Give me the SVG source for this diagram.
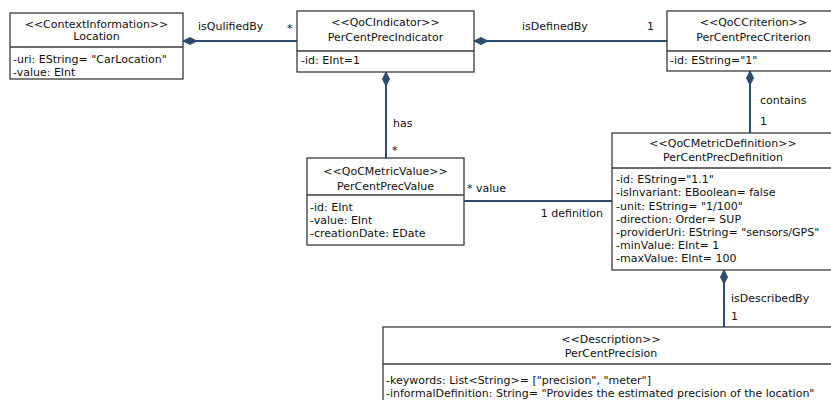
<svg xmlns="http://www.w3.org/2000/svg" width="831" height="400" viewBox="0 0 831 400">
<style>
text{font-family:"DejaVu Sans","Liberation Sans",sans-serif;font-size:11px;fill:#111}
.c{text-anchor:middle}
.box{fill:#fff;stroke:#3a3a3a;stroke-width:1.3}
.sep{stroke:#3a3a3a;stroke-width:1.3}
.conn{stroke:#2b4c70;stroke-width:2;fill:none}
.dia{fill:#2b4c70;stroke:#2b4c70;stroke-width:1}
</style>
<rect width="831" height="400" fill="#fff"/>
<g id="connectors">
  <line class="conn" x1="183" y1="41" x2="297" y2="41"/>
  <polygon class="dia" points="183,41 190,37.5 197,41 190,44.5"/>
  <text x="198" y="30">isQulifiedBy</text>
  <text x="287" y="32">*</text>

  <line class="conn" x1="474" y1="41" x2="667" y2="41"/>
  <polygon class="dia" points="474,41 481,37.5 488,41 481,44.5"/>
  <text x="522" y="30">isDefinedBy</text>
  <text x="647" y="30">1</text>

  <line class="conn" x1="386" y1="72" x2="386" y2="158"/>
  <polygon class="dia" points="386,72 389.5,79 386,86 382.5,79"/>
  <text x="393" y="127">has</text>
  <text x="392" y="154">*</text>

  <line class="conn" x1="464" y1="201" x2="612" y2="201"/>
  <text x="467" y="192">* value</text>
  <text x="603" y="217" text-anchor="end">1 definition</text>

  <line class="conn" x1="750" y1="71" x2="750" y2="133"/>
  <polygon class="dia" points="750,71 753.5,78 750,85 746.5,78"/>
  <text x="760" y="104">contains</text>
  <text x="760" y="125">1</text>

  <line class="conn" x1="724" y1="270" x2="724" y2="327"/>
  <polygon class="dia" points="724,270 727.5,277 724,284 720.5,277"/>
  <text x="731" y="302">isDescribedBy</text>
  <text x="731" y="320">1</text>
</g>
<g id="location">
  <rect class="box" x="10" y="13" width="173" height="66"/>
  <line class="sep" x1="10" y1="47" x2="183" y2="47"/>
  <text class="c" x="96.5" y="28">&lt;&lt;ContextInformation&gt;&gt;</text>
  <text class="c" x="96.5" y="40">Location</text>
  <text x="13" y="63">-uri: EString= "CarLocation"</text>
  <text x="13" y="76">-value: EInt</text>
</g>
<g id="indicator">
  <rect class="box" x="297" y="11" width="177" height="61"/>
  <line class="sep" x1="297" y1="51" x2="474" y2="51"/>
  <text class="c" x="385.5" y="26">&lt;&lt;QoCIndicator&gt;&gt;</text>
  <text class="c" x="385.5" y="41">PerCentPrecIndicator</text>
  <text x="301" y="64">-id: EInt=1</text>
</g>
<g id="criterion">
  <rect class="box" x="667" y="11" width="173" height="60"/>
  <line class="sep" x1="667" y1="51" x2="840" y2="51"/>
  <text class="c" x="753.5" y="26">&lt;&lt;QoCCriterion&gt;&gt;</text>
  <text class="c" x="753.5" y="41">PerCentPrecCriterion</text>
  <text x="670" y="64">-id: EString="1"</text>
</g>
<g id="value">
  <rect class="box" x="307" y="158" width="157" height="87"/>
  <line class="sep" x1="307" y1="195" x2="464" y2="195"/>
  <text class="c" x="385.5" y="175">&lt;&lt;QoCMetricValue&gt;&gt;</text>
  <text class="c" x="385.5" y="190">PerCentPrecValue</text>
  <text x="310" y="211">-id: EInt</text>
  <text x="310" y="224">-value: EInt</text>
  <text x="310" y="237">-creationDate: EDate</text>
</g>
<g id="definition">
  <rect class="box" x="612" y="133" width="222" height="137"/>
  <line class="sep" x1="612" y1="168" x2="834" y2="168"/>
  <text class="c" x="723" y="147">&lt;&lt;QoCMetricDefinition&gt;&gt;</text>
  <text class="c" x="723" y="161">PerCentPrecDefinition</text>
  <text x="616" y="183">-id: EString="1.1"</text>
  <text x="616" y="196">-isInvariant: EBoolean= false</text>
  <text x="616" y="209.5">-unit: EString= "1/100"</text>
  <text x="616" y="222.5">-direction: Order= SUP</text>
  <text x="616" y="236">-providerUri: EString= "sensors/GPS"</text>
  <text x="616" y="249">-minValue: EInt= 1</text>
  <text x="616" y="262">-maxValue: EInt= 100</text>
</g>
<g id="description">
  <rect class="box" x="383" y="327" width="456" height="90"/>
  <line class="sep" x1="383" y1="364" x2="839" y2="364"/>
  <text class="c" x="611" y="343">&lt;&lt;Description&gt;&gt;</text>
  <text class="c" x="611" y="357">PerCentPrecision</text>
  <text x="386" y="384">-keywords: List&lt;String&gt;= ["precision", "meter"]</text>
  <text x="386" y="397">-informalDefinition: String= "Provides the estimated precision of the location"</text>
</g>
</svg>
